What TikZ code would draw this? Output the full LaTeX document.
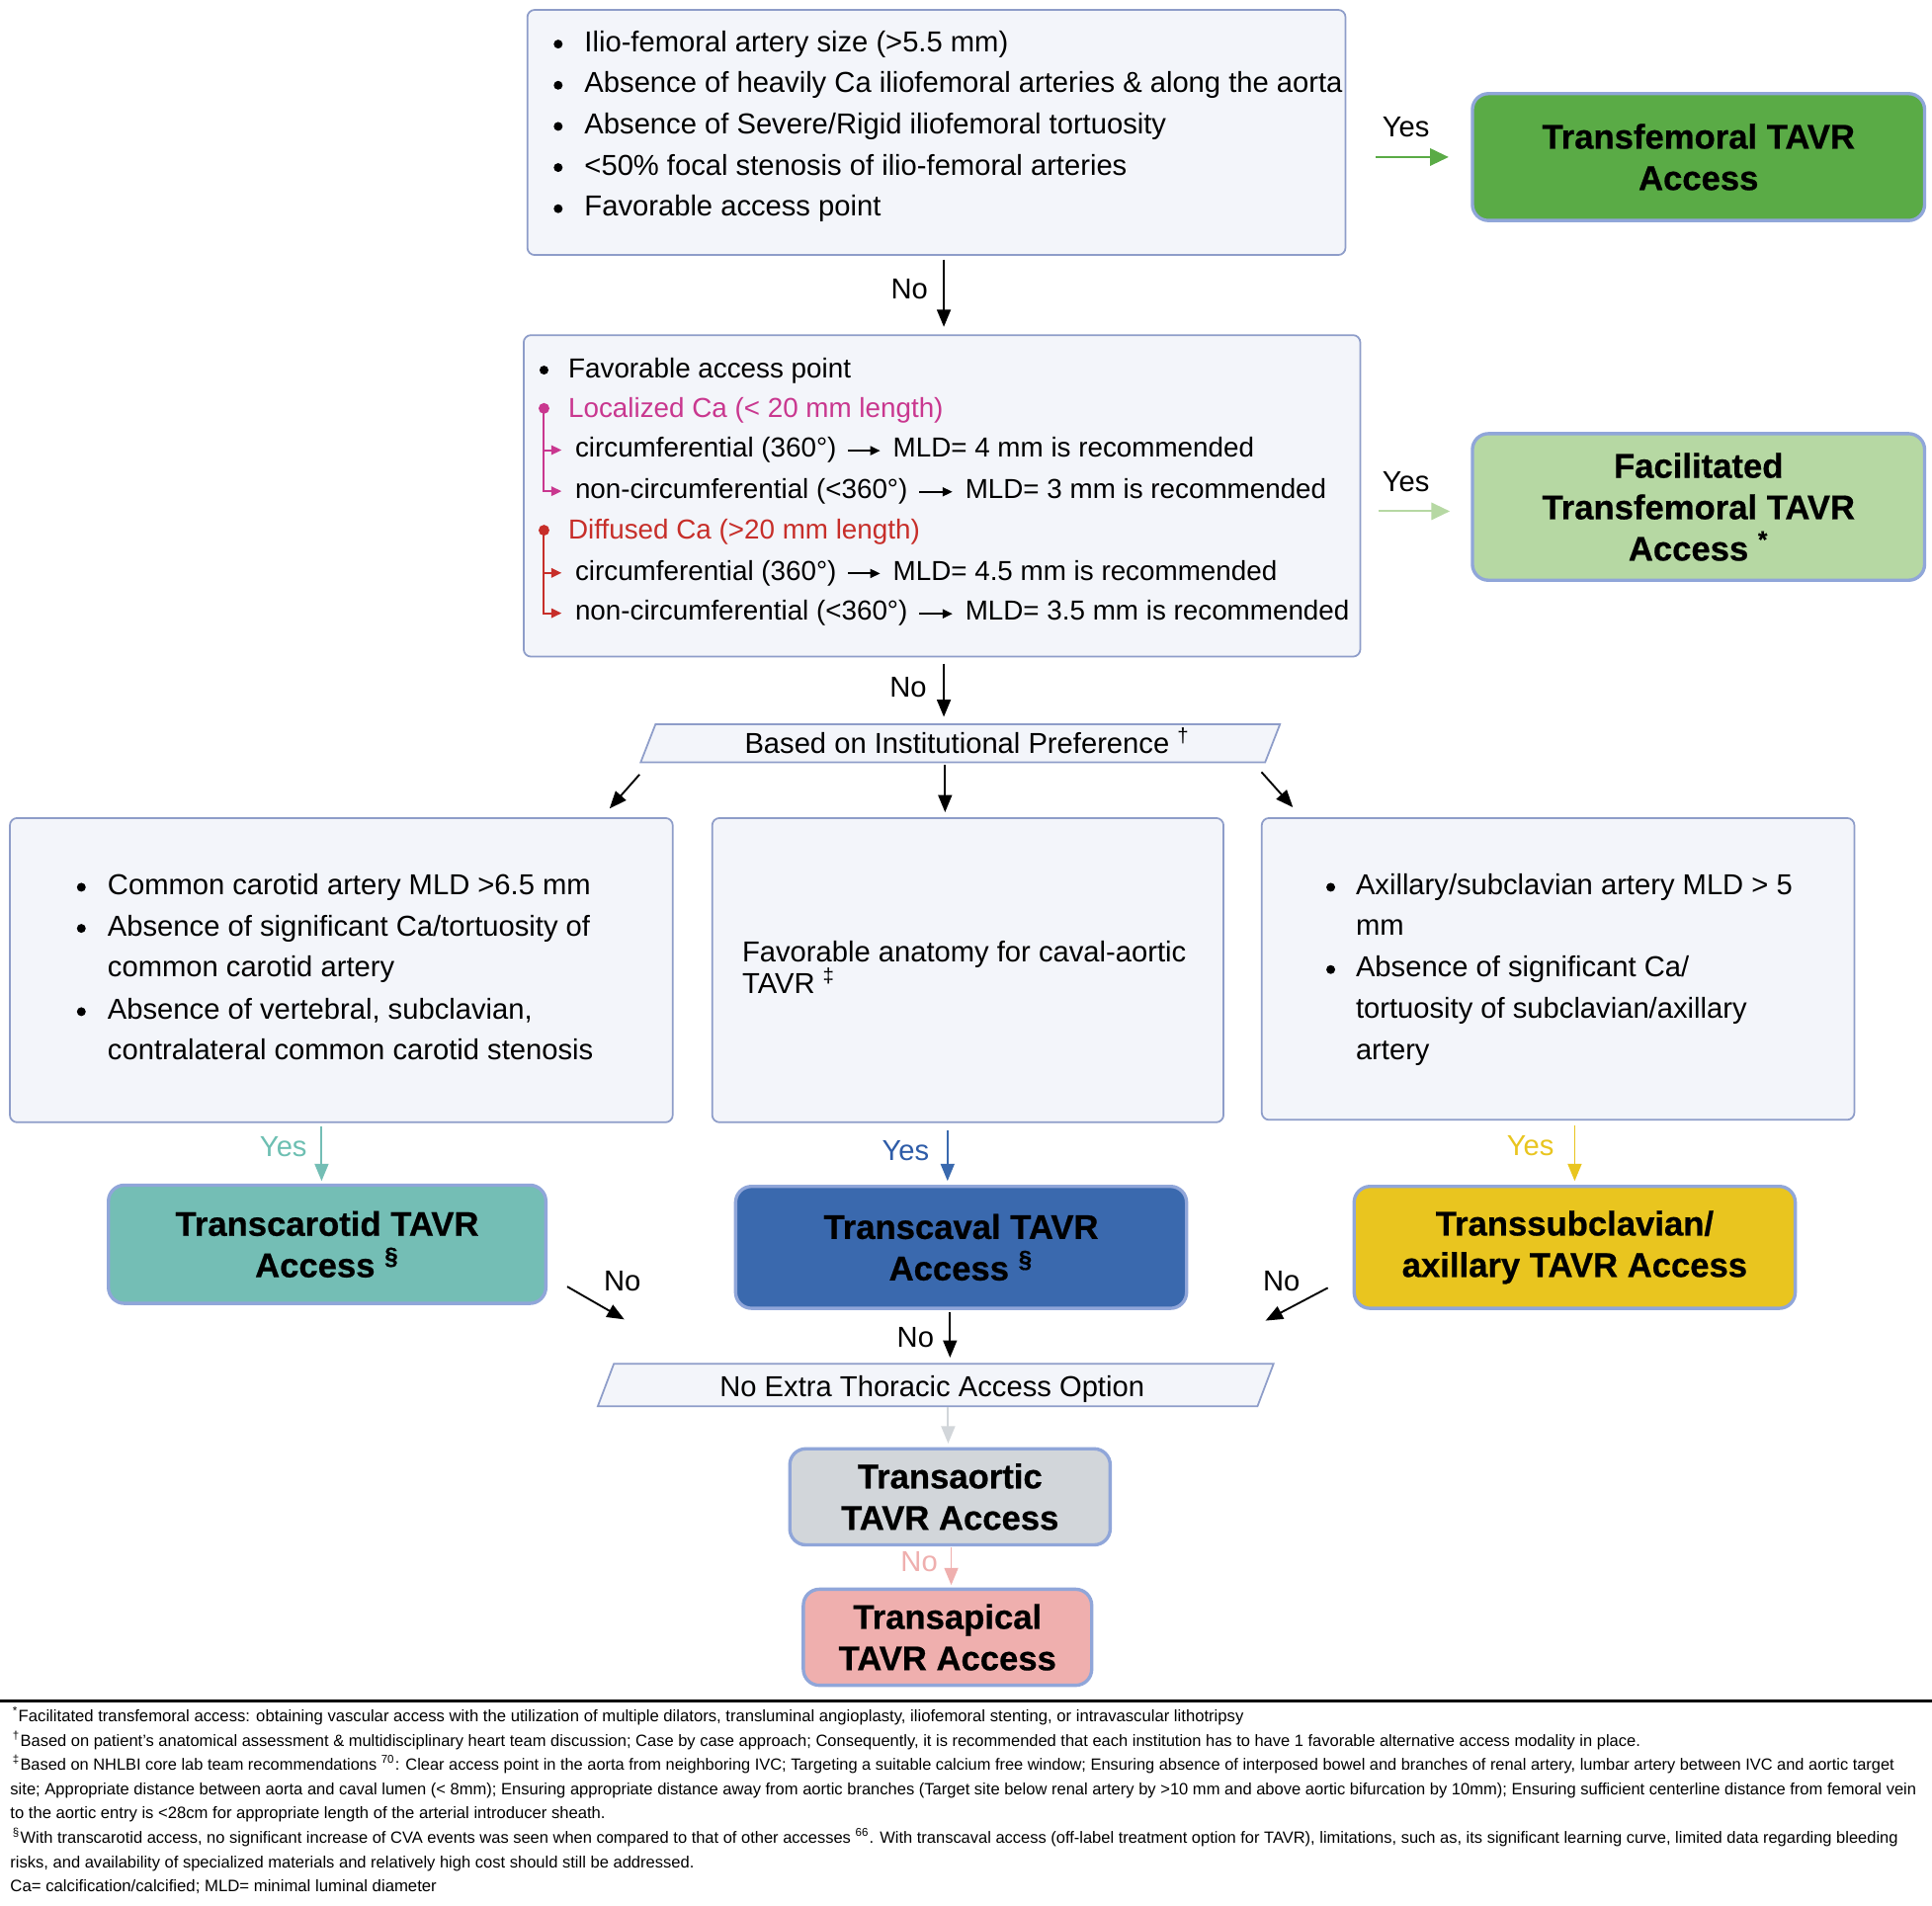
\documentclass[tikz,border=0pt]{standalone}
\usepackage{fontspec}
\setmainfont{Liberation Sans}
\newfontfamily\heavyfont{Liberation Sans}[BoldFeatures={FakeBold=0.6}]
\usepackage{graphicx}
\usetikzlibrary{arrows.meta,fit,backgrounds}
\definecolor{boxfill}{HTML}{F3F5FA}
\definecolor{boxline}{HTML}{8E9DC9}
\definecolor{outl}{HTML}{90A6D9}
\definecolor{cGreen}{HTML}{5AAB46}
\definecolor{cLGreen}{HTML}{B6D8A3}
\definecolor{cTeal}{HTML}{74BEB5}
\definecolor{cBlue}{HTML}{3A69AE}
\definecolor{cYellow}{HTML}{E9C51F}
\definecolor{cGray}{HTML}{D2D6DA}
\definecolor{cPink}{HTML}{EFAFAE}
\definecolor{cMag}{HTML}{C9378F}
\definecolor{cRed}{HTML}{C72E29}
\definecolor{tTeal}{HTML}{6DBFB2}
\definecolor{tBlue}{HTML}{2E5CA8}
\begin{document}
\begin{tikzpicture}[x=0.5pt,y=-0.5pt,
  lbox/.style={draw=boxline, fill=boxfill, line width=0.7pt, rounded corners=3pt, inner sep=0pt},
  cbox/.style={draw=outl, line width=1.35pt, rounded corners=6.5pt, inner sep=0pt},
  txt/.style={font=\fontsize{11.7}{14}\selectfont, inner sep=0pt, anchor=base west},
  stxt/.style={font=\fontsize{11.15}{14}\selectfont, inner sep=0pt, anchor=base west},
  bul/.style={circle, fill=black, inner sep=0pt, minimum size=3.6pt},
  btxt/.style={font=\fontsize{13.9}{16.8}\selectfont\heavyfont\bfseries, align=center, inner sep=0pt},
  lbl/.style={font=\fontsize{11.7}{14}\selectfont, inner sep=0pt},
  arr/.style={-{Triangle[length=7pt,width=5.6pt]}, line width=0.75pt},
  arrY/.style={-{Triangle[length=7.5pt,width=7pt]}, line width=0.75pt},
  inl/.style={-{Triangle[length=4pt,width=3.6pt]}, line width=0.75pt},
  brn/.style={-{Triangle[length=4.2pt,width=3.8pt]}, line width=0.8pt},
  dot/.style={circle, inner sep=0pt, minimum size=4.4pt},
  fn/.style={font=\fontsize{6.8}{8}\selectfont, inner sep=0pt, anchor=base west},
]
\useasboundingbox (0,0) rectangle (1568,1547);
\fill[white] (0,0) rectangle (1568,1547);

% ---------- boxes ----------
\node[lbox, fit={(428,8) (1092,207)}] (q1) {};
\node[cbox, fill=cGreen, fit={(1195,76) (1562,179)}] (tf) {};
\node[lbox, fit={(425,272) (1104,533)}] (q2) {};
\node[cbox, fill=cLGreen, fit={(1195,352) (1562,471)}] (ftf) {};
\node[lbox, fit={(8,664) (546,911)}] (L) {};
\node[lbox, fit={(578,664) (993,911)}] (M) {};
\node[lbox, fit={(1024,664) (1505,909)}] (R) {};
\node[cbox, fill=cTeal, fit={(88,962) (443,1058)}] (ct) {};
\node[cbox, fill=cBlue, fit={(597,963) (963,1062)}] (tc) {};
\node[cbox, fill=cYellow, fit={(1099,963) (1457,1062)}] (ts) {};
\node[cbox, fill=cGray, fit={(641,1176) (901,1254)}] (ta) {};
\node[cbox, fill=cPink, fit={(652,1290) (886,1368)}] (tp) {};

% parallelograms
\node[inner sep=0pt, minimum width=253pt, minimum height=15pt] (inst) at (779.4,603.3) {};
\draw[draw=boxline, fill=boxfill, line width=0.7pt] ([xshift=-3pt]inst.south west) -- ([xshift=3pt]inst.north west) -- ([xshift=3pt]inst.north east) -- ([xshift=-3pt]inst.south east) -- cycle;
\node[lbl] (instt) at (785,601.5) {Based on Institutional Preference \textsuperscript{†}};

\node[inner sep=0pt, minimum width=267.3pt, minimum height=16.8pt] (inst2) at (759.4,1124.2) {};
\draw[draw=boxline, fill=boxfill, line width=0.7pt] ([xshift=-3.25pt]inst2.south west) -- ([xshift=3.25pt]inst2.north west) -- ([xshift=3.25pt]inst2.north east) -- ([xshift=-3.25pt]inst2.south east) -- cycle;
\node[lbl] (inst2t) at (756.5,1128) {No Extra Thoracic Access Option};

% ---------- coloured box texts ----------
\node[btxt] (tft) at (tf.center) {Transfemoral TAVR\\Access};
\node[btxt] (ftft) at (ftf.center) {Facilitated\\Transfemoral TAVR\\Access \textsuperscript{*}};
\node[btxt] (ctt) at (ct.center) {Transcarotid TAVR\\Access \textsuperscript{§}};
\node[btxt] (tct) at (tc.center) {Transcaval TAVR\\Access \textsuperscript{§}};
\node[btxt] (tst) at (ts.center) {Transsubclavian/\\axillary TAVR Access};
\node[btxt] (tat) at (ta.center) {Transaortic\\TAVR Access};
\node[btxt] (tpt) at (tp.center) {Transapical\\TAVR Access};

% ---------- top box ----------
\node[bul] (b11) at (453,35.8) {};
\node[bul] (b12) at (453,69.2) {};
\node[bul] (b13) at (453,102.6) {};
\node[bul] (b14) at (453,136) {};
\node[bul] (b15) at (453,169.4) {};
\node[txt] (t11) at (474,41.8) {Ilio-femoral artery size (>5.5 mm)};
\node[txt] (t12) at (474,75.2) {Absence of heavily Ca iliofemoral arteries \& along the aorta};
\node[txt] (t13) at (474,108.6) {Absence of Severe/Rigid iliofemoral tortuosity};
\node[txt] (t14) at (474,142) {<50\% focal stenosis of ilio-femoral arteries};
\node[txt] (t15) at (474,175.4) {Favorable access point};

% ---------- second box ----------
\node[bul] (b21) at (441.5,300.4) {};
\node[stxt] (t21) at (460.9,306.4) {Favorable access point};
\node[stxt, text=cMag] (loc) at (460.9,338.5) {Localized Ca (< 20 mm length)};
\node[stxt] (c1) at (466.4,371.1) {circumferential (360°)};
\node[stxt] (m1) at ([xshift=22.5pt]c1.base east) {MLD= 4 mm is recommended};
\node[stxt] (c2) at (466.4,404.5) {non-circumferential (<360°)};
\node[stxt] (m2) at ([xshift=23pt]c2.base east) {MLD= 3 mm is recommended};
\node[stxt, text=cRed] (dif) at (460.9,437.4) {Diffused Ca (>20 mm length)};
\node[stxt] (c3) at (466.4,470.8) {circumferential (360°)};
\node[stxt] (m3) at ([xshift=22.5pt]c3.base east) {MLD= 4.5 mm is recommended};
\node[stxt] (c4) at (466.4,503.5) {non-circumferential (<360°)};
\node[stxt] (m4) at ([xshift=23pt]c4.base east) {MLD= 3.5 mm is recommended};
\foreach \a/\b in {c1/m1,c2/m2,c3/m3,c4/m4}
  \draw[inl] ([xshift=4.5pt]\a.mid east) -- ([xshift=-5pt]\b.mid west);

\node[dot, fill=cMag] (ld) at (441.5,331.5) {};
\draw[brn, cMag] (ld.center) |- ([xshift=-5.3pt]c1.west);
\draw[brn, cMag] (ld.center) |- ([xshift=-5.3pt]c2.west);
\node[dot, fill=cRed] (dd) at (441.5,430.4) {};
\draw[brn, cRed] (dd.center) |- ([xshift=-5.3pt]c3.west);
\draw[brn, cRed] (dd.center) |- ([xshift=-5.3pt]c4.west);

% ---------- left box ----------
\node[bul] (bl1) at (66,720.2) {};
\node[bul] (bl2) at (66,753.6) {};
\node[bul] (bl3) at (66,821.2) {};
\node[txt] (l1) at (87,726.2) {Common carotid artery MLD >6.5 mm};
\node[txt] (l2) at (87,759.6) {Absence of significant Ca/tortuosity of};
\node[txt] (l3) at (87,793) {common carotid artery};
\node[txt] (l4) at (87,827.2) {Absence of vertebral, subclavian,};
\node[txt] (l5) at (87,860.4) {contralateral common carotid stenosis};

% ---------- middle box ----------
\node[txt] (mm1) at (602,781) {Favorable anatomy for caval-aortic};
\node[txt] (mm2) at (602,806.4) {TAVR \textsuperscript{‡}};

% ---------- right box ----------
\node[bul] (br1) at (1080,720.2) {};
\node[bul] (br2) at (1080,787) {};
\node[txt] (r1) at (1100,726.2) {Axillary/subclavian artery MLD > 5};
\node[txt] (r2) at (1100,758.8) {mm};
\node[txt] (r3) at (1100,793) {Absence of significant Ca/};
\node[txt] (r4) at (1100,826.4) {tortuosity of subclavian/axillary};
\node[txt] (r5) at (1100,860.4) {artery};

% ---------- connectors ----------
\coordinate (cx) at (766,0);
\coordinate (cx2) at (767,0);
\coordinate (cx3) at (771,0);
\coordinate (cx4) at (769.5,0);
\coordinate (cx5) at (772,0);
\coordinate (yx1) at (261,0);
\coordinate (yx2) at (769,0);
\coordinate (yx3) at (1278,0);

\draw[arrY, cGreen, shorten <=12pt, shorten >=9pt] (q1.east |- tf.west) -- (tf.west);
\draw[arrY, cLGreen, shorten <=7pt, shorten >=8.5pt] ([yshift=-1.75pt]q2.east |- ftf.west) -- ([yshift=-1.75pt]ftf.west);
\draw[arr, shorten <=1.5pt, shorten >=3pt] (q1.south -| cx) -- (q2.north -| cx);
\draw[arr, shorten <=2.5pt, shorten >=3pt] (q2.south -| cx) -- (inst.north -| cx);
\draw[arr, shorten <=1pt, shorten >=2pt] (inst.south -| cx2) -- (M.north -| cx2);
\draw[arr] ([shift={(-7,10)}]inst.south west) -- ([shift={(-52,-7)}]L.north east);
\draw[arr] ([shift={(-9,8)}]inst.south east) -- ([shift={(26,-8)}]R.north west);

\draw[arr, cTeal, shorten <=1.5pt, shorten >=1pt] (L.south -| yx1) -- (ct.north -| yx1);
\draw[arr, cBlue, shorten <=3pt, shorten >=1.5pt] (M.south -| yx2) -- (tc.north -| yx2);
\draw[arr, cYellow, shorten <=2pt, shorten >=1.5pt] (R.south -| yx3) -- (ts.north -| yx3);

\draw[arr] ([shift={(16,-15)}]ct.south east) -- ([shift={(15,-36)}]inst2.north west);
\draw[arr] ([shift={(-20,-18)}]ts.south west) -- ([shift={(0,-35)}]inst2.north east);
\draw[arr, shorten <=1pt, shorten >=2.5pt] (tc.south -| cx3) -- (inst2.north -| cx3);
\draw[arr, cGray, shorten <=0.5pt, shorten >=1.5pt] (inst2.south -| cx4) -- (ta.north -| cx4);
\draw[arr, cPink, shorten <=0.5pt, shorten >=1pt] (ta.south -| cx5) -- (tp.north -| cx5);

% ---------- labels ----------
\node[lbl] (y1) at (1141,103) {Yes};
\node[lbl] (n1) at (738,235) {No};
\node[lbl] (y2) at (1141,391) {Yes};
\node[lbl] (n2) at (737,558) {No};
\node[lbl, text=tTeal] (y3) at (230,931) {Yes};
\node[lbl, text=tBlue] (y4) at (735,934) {Yes};
\node[lbl, text=cYellow] (y5) at (1242,930) {Yes};
\node[lbl] (n3) at (505,1040) {No};
\node[lbl] (n4) at (1040,1040) {No};
\node[lbl] (n5) at (743,1086) {No};
\node[lbl, text=cPink] (n6) at (746,1268) {No};

% ---------- footnotes ----------
\draw[line width=1.1pt] (0,1381) -- (1568,1381);
\node[fn] (f1) at (10,1397.5) {\resizebox{499.5pt}{!}{\textsuperscript{*}Facilitated transfemoral access: obtaining vascular access with the utilization of multiple dilators, transluminal angioplasty, iliofemoral stenting, or intravascular lithotripsy}};
\node[fn] (f2) at (10,1417.5) {\resizebox{660.5pt}{!}{\textsuperscript{†}Based on patient's anatomical assessment \& multidisciplinary heart team discussion; Case by case approach; Consequently, it is recommended that each institution has to have 1 favorable alternative access modality in place.}};
\node[fn] (f3) at (10,1437) {\resizebox{763.5pt}{!}{\textsuperscript{‡}Based on NHLBI core lab team recommendations \textsuperscript{70}: Clear access point in the aorta from neighboring IVC; Targeting a suitable calcium free window; Ensuring absence of interposed bowel and branches of renal artery, lumbar artery between IVC and aortic target}};
\node[fn] (f4) at (8,1457) {\resizebox{773.5pt}{!}{site; Appropriate distance between aorta and caval lumen (< 8mm); Ensuring appropriate distance away from aortic branches (Target site below renal artery by >10 mm and above aortic bifurcation by 10mm); Ensuring sufficient centerline distance from femoral vein}};
\node[fn] (f5) at (8,1476.5) {\resizebox{241.5pt}{!}{to the aortic entry is <28cm for appropriate length of the arterial introducer sheath.}};
\node[fn] (f6) at (10,1496.5) {\resizebox{765pt}{!}{\textsuperscript{§}With transcarotid access, no significant increase of CVA events was seen when compared to that of other accesses \textsuperscript{66}. With transcaval access (off-label treatment option for TAVR), limitations, such as, its significant learning curve, limited data regarding bleeding}};
\node[fn] (f7) at (8,1516) {\resizebox{277.5pt}{!}{risks, and availability of specialized materials and relatively high cost should still be addressed.}};
\node[fn] (f8) at (8,1535.5) {\resizebox{173pt}{!}{Ca= calcification/calcified; MLD= minimal luminal diameter}};
\end{tikzpicture}
\end{document}
